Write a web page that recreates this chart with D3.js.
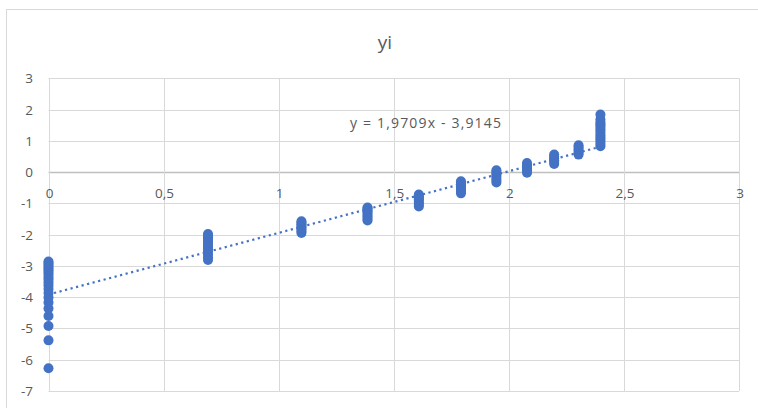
<!DOCTYPE html>
<html>
<head>
<meta charset="utf-8">
<script src="https://cdn.jsdelivr.net/npm/d3@7"></script>
<style>
  body { margin: 0; background: #fff; }
  text { font-family: "Open Sans", Lato, sans-serif; fill: #595959; }
</style>
</head>
<body>
<svg id="chart" width="758" height="408"></svg>
<script>
// x positions of the point columns
var xCols = [0, 0.693, 1.099, 1.386, 1.609, 1.792, 1.946, 2.079, 2.197, 2.303, 2.398];

// y values read per column
var yCol0 = [-6.27, -5.38, -4.92, -4.60, -4.36, -4.17, -4.01, -3.87, -3.74, -3.63, -3.53, -3.44, -3.36, -3.28, -3.21, -3.14, -3.08, -3.02, -2.96, -2.91, -2.86];
var yCol1 = [-2.81, -2.72, -2.63, -2.55, -2.47, -2.40, -2.33, -2.26, -2.20, -2.14, -2.08, -2.03, -1.98];
var yCol2 = [-1.95, -1.89, -1.83, -1.77, -1.72, -1.67, -1.62, -1.57];
var yCol3 = [-1.55, -1.49, -1.43, -1.37, -1.31, -1.26, -1.21, -1.16, -1.13];
var yCol4 = [-1.10, -1.04, -0.98, -0.92, -0.87, -0.82, -0.77, -0.72];
var yCol5 = [-0.68, -0.62, -0.56, -0.50, -0.45, -0.39, -0.34, -0.29];
var yCol6 = [-0.33, -0.26, -0.19, -0.12, -0.06, 0.00, 0.06];
var yCol7 = [-0.02, 0.05, 0.11, 0.17, 0.23, 0.29];
var yCol8 = [0.26, 0.32, 0.38, 0.44, 0.50, 0.56];
var yCol9 = [0.56, 0.62, 0.68, 0.74, 0.80, 0.86];
var yCol10 = [0.83, 0.90, 0.97, 1.04, 1.11, 1.18, 1.25, 1.32, 1.39, 1.47, 1.53, 1.59, 1.68, 1.84];
var yCols = [yCol0, yCol1, yCol2, yCol3, yCol4, yCol5, yCol6, yCol7, yCol8, yCol9, yCol10];

// trendline
var slope = 1.9709;
var intercept = -3.9145;
var trendLabel = "y = 1,9709x - 3,9145";

var xTicks = [0, 0.5, 1, 1.5, 2, 2.5, 3];
var yTicks = [3, 2, 1, 0, -1, -2, -3, -4, -5, -6, -7];
var title = "yi";

var points = [];
xCols.forEach(function(x, i) {
  yCols[i].forEach(function(y) { points.push({x: x, y: y}); });
});

var svg = d3.select('#chart');
var blue = "#4472C4";
var fmt = function(v) { return String(v).replace('.', ','); };

var x = d3.scaleLinear().domain([0, 3]).range([48.5, 739]);
var y = d3.scaleLinear().domain([-7, 3]).range([391, 78.3]);

// chart frame
svg.append('rect')
  .attr('x', 6.5).attr('y', 9.5)
  .attr('width', 800).attr('height', 500)
  .style('fill', 'none')
  .style('stroke', '#d9d9d9');

svg.append('text')
  .attr('x', 385).attr('y', 49)
  .attr('text-anchor', 'middle')
  .style('font-size', '19px')
  .text(title);

// gridlines
svg.append('g').selectAll('line.h')
  .data(yTicks).enter().append('line')
  .attr('x1', x(0)).attr('x2', x(3))
  .attr('y1', d => Math.round(y(d)) + 0.5)
  .attr('y2', d => Math.round(y(d)) + 0.5)
  .style('stroke', d => d === 0 ? '#bfbfbf' : '#d9d9d9')
  .style('stroke-width', d => d === 0 ? 1.3 : 1);

svg.append('g').selectAll('line.v')
  .data(xTicks).enter().append('line')
  .attr('y1', y(3)).attr('y2', y(-7))
  .attr('x1', d => Math.round(x(d)) + 0.5)
  .attr('x2', d => Math.round(x(d)) + 0.5)
  .style('stroke', '#d9d9d9');

// tick labels
svg.append('g').selectAll('text')
  .data(yTicks).enter().append('text')
  .attr('x', 33)
  .attr('y', d => y(d) + 5)
  .attr('text-anchor', 'end')
  .style('font-size', '13.5px')
  .text(d => fmt(d));

svg.append('g').selectAll('text')
  .data(xTicks).enter().append('text')
  .attr('x', d => x(d) + 1)
  .attr('y', y(0) + 26)
  .attr('text-anchor', 'middle')
  .style('font-size', '13.5px')
  .text(d => fmt(d));

// points
svg.append('g').selectAll('circle')
  .data(points).enter().append('circle')
  .attr('cx', d => x(d.x))
  .attr('cy', d => y(d.y))
  .attr('r', 5)
  .style('fill', blue);

// trendline
var xMax = d3.max(xCols);
svg.append('line')
  .attr('x1', x(0)).attr('y1', y(intercept))
  .attr('x2', x(xMax)).attr('y2', y(slope * xMax + intercept))
  .style('stroke', blue)
  .style('stroke-width', 2.2)
  .style('stroke-dasharray', '2.2,3.5');

svg.append('text')
  .attr('x', 350).attr('y', 128)
  .attr('textLength', 151)
  .attr('lengthAdjust', 'spacing')
  .style('font-size', '14px')
  .text(trendLabel);
</script>
</body>
</html>
